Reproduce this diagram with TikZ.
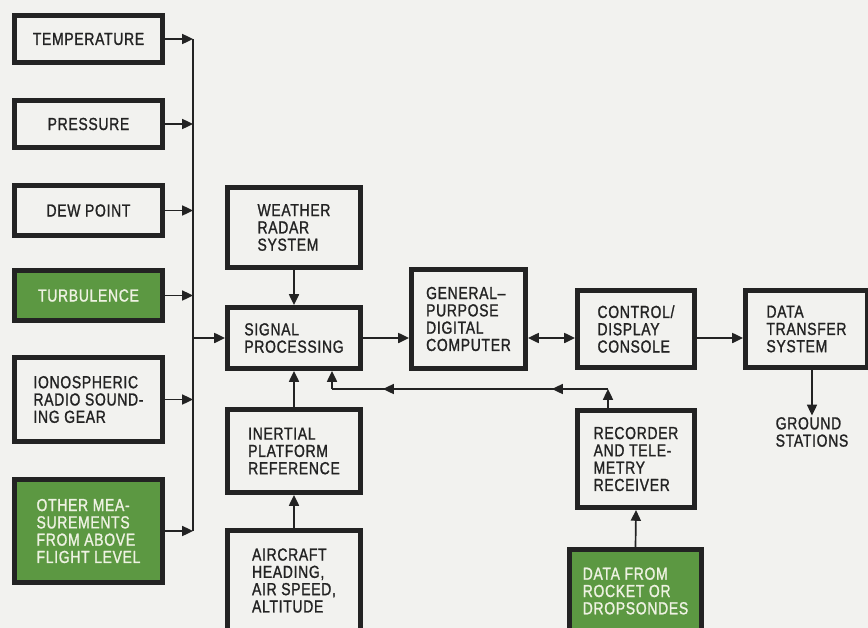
\documentclass[tikz,border=0pt]{standalone}
\usepackage{fontspec}
\setmainfont{Liberation Sans}[FakeStretch=0.8,FakeBold=1.2,LetterSpace=4]
\usetikzlibrary{arrows.meta}
\definecolor{paper}{RGB}{242,242,239}
\definecolor{ink}{RGB}{35,35,35}
\definecolor{boxgreen}{RGB}{92,152,66}
\definecolor{greentext}{RGB}{238,242,226}

\begin{document}
\begin{tikzpicture}[font=\fontsize{12.4}{12.3}\selectfont,
  box/.style={draw=ink,line width=3.5pt,fill=paper,text=ink,inner sep=0pt,align=left},
  greenbox/.style={box,fill=boxgreen,text=greentext},
  line/.style={draw=ink,line width=1.2pt},
  flow/.style={line,-{Triangle[length=2.7mm,width=2.5mm]}},
  both/.style={line,{Triangle[length=2.7mm,width=2.5mm]}-{Triangle[length=2.7mm,width=2.5mm]}}]

\fill[paper] (0,0) rectangle (21.7,-15.7);
\useasboundingbox (0,0) rectangle (21.7,-15.7);

% ============ sensors on the left ============
\node[box,minimum width=3.7cm,minimum height=1.175cm] (temp) at (2.2125,-0.975) {TEMPERATURE};
\node[box,minimum width=3.7cm,minimum height=1.175cm] (pres) at (2.2125,-3.1) {PRESSURE};
\node[box,minimum width=3.7cm,minimum height=1.25cm] (dew) at (2.2125,-5.2625) {DEW POINT};
\node[greenbox,minimum width=3.7cm,minimum height=1.25cm] (turb) at (2.2125,-7.3875) {TURBULENCE};
\node[box,minimum width=3.7cm,minimum height=2.1cm] (iono) at (2.2125,-9.9875) {IONOSPHERIC\\RADIO SOUND-\\ING GEAR};
\node[greenbox,minimum width=3.7cm,minimum height=2.575cm] (other) at (2.2125,-13.275) {OTHER MEA-\\SUREMENTS\\FROM ABOVE\\FLIGHT LEVEL};

\coordinate (bus) at (4.825,-8.45);
\foreach \n in {temp,pres,dew,turb,iono,other}{
  \draw[flow] (\n.east) -- (\n.east -| bus);
}
\draw[line] (temp.east -| bus) -- (other.east -| bus);

% ============ middle column ============
\node[box,minimum width=3.325cm,minimum height=2.0cm] (radar) at (7.35,-5.6875) {WEATHER\\RADAR\\SYSTEM};
\node[box,minimum width=3.325cm,minimum height=1.525cm] (sp) at (7.35,-8.45) {SIGNAL\\PROCESSING};
\node[box,minimum width=3.325cm,minimum height=2.075cm] (inert) at (7.35,-11.275) {INERTIAL\\PLATFORM\\REFERENCE};
\node[box,minimum width=3.325cm,minimum height=2.5cm] (air) at (7.35,-14.5125) {AIRCRAFT\\HEADING,\\AIR SPEED,\\ALTITUDE};

\draw[flow] (bus) -- (sp.west);
\draw[flow] (radar.south) -- (sp.north);
\draw[flow] (inert.north) -- (sp.south);
\draw[flow] (air.north) -- (inert.south);

% ============ computer, console, transfer ============
\node[box,minimum width=2.85cm,minimum height=2.475cm] (gpc) at (11.7125,-7.975) {GENERAL--\\PURPOSE\\DIGITAL\\COMPUTER};
\node[box,minimum width=2.925cm,minimum height=1.925cm] (cdc) at (15.9,-8.225) {CONTROL/\\DISPLAY\\CONSOLE};
\node[box,minimum width=3.05cm,minimum height=1.925cm] (dts) at (20.1625,-8.225) {DATA\\TRANSFER\\SYSTEM};
\node[text=ink,align=left,inner sep=1pt] (ground) at (20.3,-10.8) {GROUND\\STATIONS};

\draw[flow] (sp.east) -- (sp.east -| gpc.west);
\draw[both] (gpc.east |- sp.east) -- (cdc.west |- sp.east);
\draw[flow] (cdc.east |- sp.east) -- (dts.west |- sp.east);
\draw[flow] (dts.south -| ground) -- (ground.north);

% ============ recorder and sondes ============
\node[box,minimum width=2.925cm,minimum height=2.425cm] (rec) at (15.9,-11.475) {RECORDER\\AND TELE-\\METRY\\RECEIVER};
\node[greenbox,minimum width=3.3cm,minimum height=2.075cm] (data) at (15.8875,-14.775) {DATA FROM\\ROCKET OR\\DROPSONDES};

\draw[flow] (data.north) -- (rec.south);

\coordinate (fb) at (15.2,-9.725);
\coordinate (fbA) at (13.8,-9.725);
\coordinate (fbB) at (9.575,-9.725);
\coordinate (fbC) at (8.3,-9.725);
\draw[flow] (rec.north -| fb) -- (fb);
\draw[line] (fb) -- (fbC);
\draw[flow] (fb) -- (fbA);
\draw[flow] (fbA) -- (fbB);
\draw[flow] (fbC) -- (sp.south -| fbC);

\end{tikzpicture}
\end{document}
